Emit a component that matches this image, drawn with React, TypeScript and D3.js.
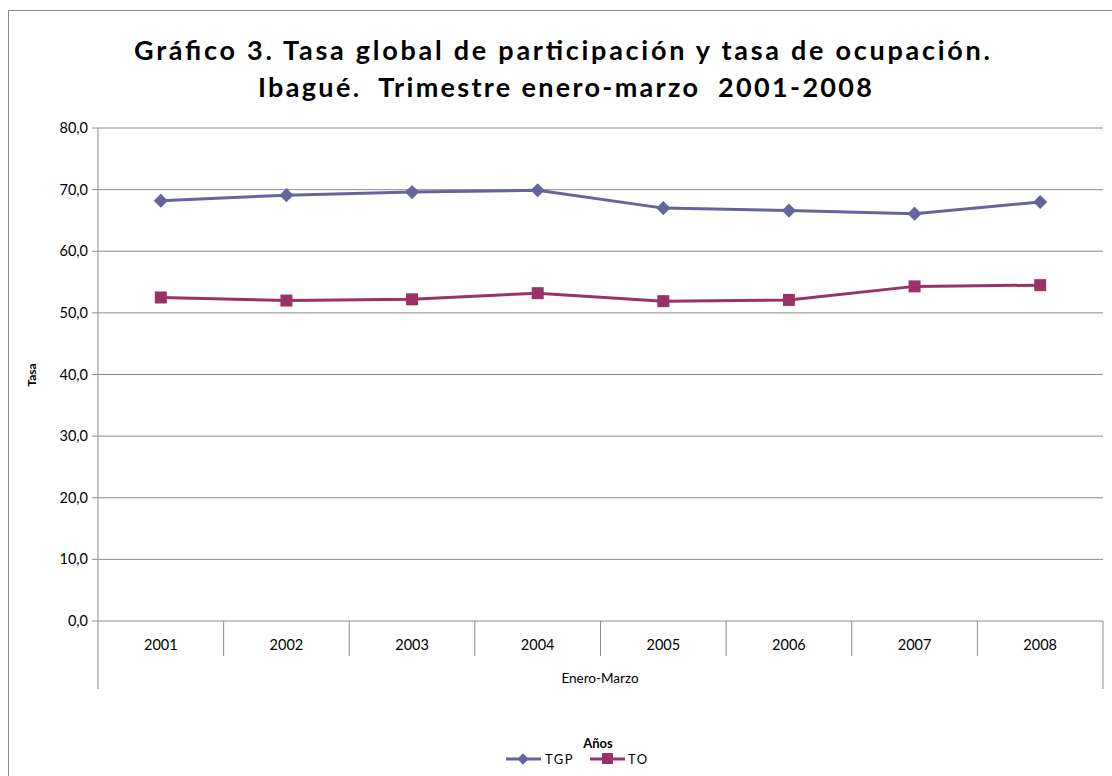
import * as d3 from "d3";

const years = ["2001", "2002", "2003", "2004", "2005", "2006", "2007", "2008"];
const tgp = [68.2, 69.1, 69.6, 69.9, 67.0, 66.6, 66.1, 68.0];
const to = [52.5, 52.0, 52.2, 53.2, 51.9, 52.1, 54.3, 54.5];
const yTicks = [0, 10, 20, 30, 40, 50, 60, 70, 80];

const W = 1112;
const H = 776;
const m = { left: 98, right: 1103, top: 128, bottom: 621 };
const font = "Lato, 'Open Sans', sans-serif";
const cTGP = "#65659c";
const cTO = "#993366";
const grid = "#8c8c8c";

const App = () => {
  const x = d3.scaleBand().domain(years).range([m.left, m.right]);
  const y = d3.scaleLinear().domain([0, 80]).range([m.bottom, m.top]);
  const cx = (d: string) => (x(d) as number) + x.bandwidth() / 2;

  const line = d3
    .line<number>()
    .x((_, i) => cx(years[i]))
    .y((d) => y(d));

  return (
    <svg
      width={W}
      height={H}
      style={{ position: "absolute", left: 0, top: 0, background: "#fff" }}
    >
      <rect x={8.5} y={10.5} width={W} height={H} fill="none" stroke="#8c8c8c" />

      <text
        x={562}
        y={60}
        textAnchor="middle"
        fontFamily={font}
        fontWeight="bold"
        fontSize={27}
        textLength={856}
        lengthAdjust="spacing"
      >
        Gráfico 3. Tasa global de participación y tasa de ocupación.
      </text>
      <text
        x={565}
        y={97}
        textAnchor="middle"
        fontFamily={font}
        fontWeight="bold"
        fontSize={27}
        textLength={614}
        lengthAdjust="spacing"
        style={{ whiteSpace: "pre" }}
      >
        {"Ibagué.  Trimestre enero-marzo  2001-2008"}
      </text>

      {yTicks.map((t) => (
        <g key={t}>
          <line x1={m.left - 6} x2={m.right} y1={y(t)} y2={y(t)} stroke={grid} />
          <text
            x={m.left - 10}
            y={y(t) + 5}
            textAnchor="end"
            fontFamily={font}
            fontSize={14.5}
          >
            {t.toFixed(1).replace(".", ",")}
          </text>
        </g>
      ))}

      <line x1={m.left} x2={m.left} y1={m.top} y2={689} stroke={grid} />
      <line x1={m.right} x2={m.right} y1={m.bottom} y2={689} stroke={grid} />
      {years.slice(1).map((yr) => (
        <line
          key={yr}
          x1={x(yr) as number}
          x2={x(yr) as number}
          y1={m.bottom}
          y2={656}
          stroke={grid}
        />
      ))}
      {years.map((yr) => (
        <text
          key={yr}
          x={cx(yr)}
          y={650}
          textAnchor="middle"
          fontFamily={font}
          fontSize={14.5}
        >
          {yr}
        </text>
      ))}
      <text x={600} y={683} textAnchor="middle" fontFamily={font} fontSize={13.5}>
        Enero-Marzo
      </text>

      <text
        transform={`translate(36,375) rotate(-90)`}
        textAnchor="middle"
        fontFamily={font}
        fontWeight="bold"
        fontSize={12}
      >
        Tasa
      </text>

      <path d={line(tgp) as string} fill="none" stroke={cTGP} strokeWidth={3} />
      <path d={line(to) as string} fill="none" stroke={cTO} strokeWidth={3} />
      {tgp.map((v, i) => (
        <rect
          key={"a" + i}
          x={-5}
          y={-5}
          width={10}
          height={10}
          transform={`translate(${cx(years[i])},${y(v)}) rotate(45)`}
          fill={cTGP}
        />
      ))}
      {to.map((v, i) => (
        <rect
          key={"b" + i}
          x={cx(years[i]) - 6}
          y={y(v) - 6}
          width={12}
          height={12}
          fill={cTO}
        />
      ))}

      <text x={598} y={748} textAnchor="middle" fontFamily={font} fontWeight="bold" fontSize={13}>
        Años
      </text>
      <g>
        <line x1={506} x2={541} y1={759} y2={759} stroke={cTGP} strokeWidth={3} />
        <rect x={-4} y={-4} width={8} height={8} transform="translate(523,759) rotate(45)" fill={cTGP} />
        <text x={545} y={764} fontFamily={font} fontSize={13} letterSpacing={1.5}>
          TGP
        </text>
        <line x1={590} x2={625} y1={759} y2={759} stroke={cTO} strokeWidth={3} />
        <rect x={602} y={753} width={11} height={11} fill={cTO} />
        <text x={628} y={764} fontFamily={font} fontSize={13} letterSpacing={1.5}>
          TO
        </text>
      </g>
    </svg>
  );
};

export default App;
